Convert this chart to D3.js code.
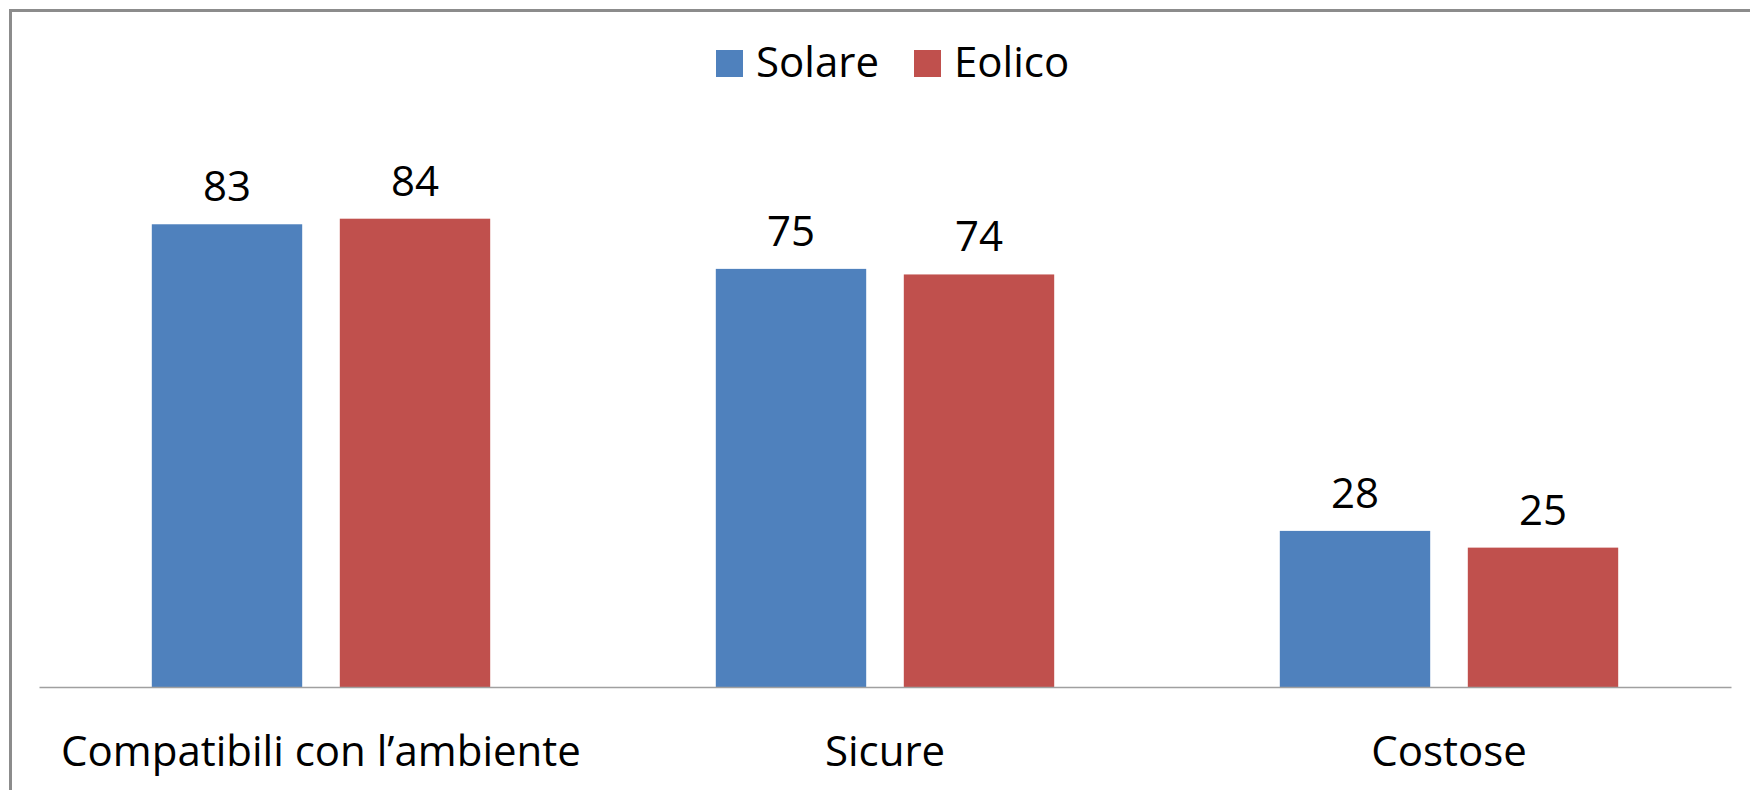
<!DOCTYPE html>
<html>
<head>
<meta charset="utf-8">
<script src="https://cdn.jsdelivr.net/npm/d3@7"></script>
<style>
  body { margin: 0; background: #fff; overflow: hidden; }
  svg { display: block; }
  text { font-family: "Open Sans", "Noto Sans", sans-serif; fill: #000; }
</style>
</head>
<body>
<script>
const categories = ["Compatibili con l\u2019ambiente", "Sicure", "Costose"];
const seriesNames = ["Solare", "Eolico"];
const solare = [83, 75, 28];
const eolico = [84, 74, 25];
const colors = ["#4F81BD", "#C0504D"];

const w = 1750;
const h = 790;
const fontSize = 42;

const rows = categories.map((c, i) => ({cat: c, values: [solare[i], eolico[i]]}));

const svg = d3.select("body")
  .append("svg")
  .attr("width", w)
  .attr("height", h);

// chart border (runs off the right and bottom edges like the original)
svg.append("rect")
  .attr("x", 10.5)
  .attr("y", 10.5)
  .attr("width", w + 50)
  .attr("height", h + 50)
  .attr("fill", "none")
  .attr("stroke", "#8c8c8c")
  .attr("stroke-width", 3);

const xScale = d3.scaleBand()
  .domain(categories)
  .range([39, 1731]);

const xSub = d3.scaleBand()
  .domain(seriesNames)
  .range([0, xScale.bandwidth()])
  .paddingInner(0.2)
  .paddingOuter(0.6);

const yScale = d3.scaleLinear()
  .domain([0, 100])
  .range([687, 129.5]);

const groups = svg.selectAll("g.cat")
  .data(rows)
  .enter()
  .append("g")
  .attr("class", "cat")
  .attr("transform", d => "translate(" + xScale(d.cat) + ",0)");

groups.selectAll("rect")
  .data(d => d.values.map((v, i) => ({name: seriesNames[i], value: v, color: colors[i]})))
  .enter()
  .append("rect")
  .attr("x", d => xSub(d.name))
  .attr("y", d => yScale(d.value))
  .attr("width", xSub.bandwidth())
  .attr("height", d => yScale(0) - yScale(d.value))
  .attr("fill", d => d.color);

groups.selectAll("text.val")
  .data(d => d.values.map((v, i) => ({name: seriesNames[i], value: v})))
  .enter()
  .append("text")
  .attr("class", "val")
  .attr("x", d => xSub(d.name) + xSub.bandwidth() / 2)
  .attr("y", d => yScale(d.value) - 23)
  .attr("text-anchor", "middle")
  .style("font-size", fontSize + "px")
  .text(d => d.value);

// x axis line + category labels
const xAxis = d3.axisBottom(xScale).tickSize(0).tickPadding(0);
const axisG = svg.append("g")
  .attr("transform", "translate(0," + yScale(0) + ")")
  .call(xAxis);
axisG.select(".domain")
  .attr("stroke", "#a0a0a0")
  .attr("stroke-width", 1.5);
axisG.selectAll(".tick text")
  .attr("dy", null)
  .attr("y", 79)
  .style("font-size", fontSize + "px")
  .style("font-family", "\"Open Sans\", sans-serif")
  .attr("fill", "#000");

// legend
const legend = svg.append("g");
const legendX = [716, 914];
seriesNames.forEach((s, i) => {
  legend.append("rect")
    .attr("x", legendX[i])
    .attr("y", 50)
    .attr("width", 27)
    .attr("height", 27)
    .attr("fill", colors[i]);
  legend.append("text")
    .attr("x", legendX[i] + 40)
    .attr("y", 77)
    .style("font-size", fontSize + "px")
    .text(s);
});
</script>
</body>
</html>
